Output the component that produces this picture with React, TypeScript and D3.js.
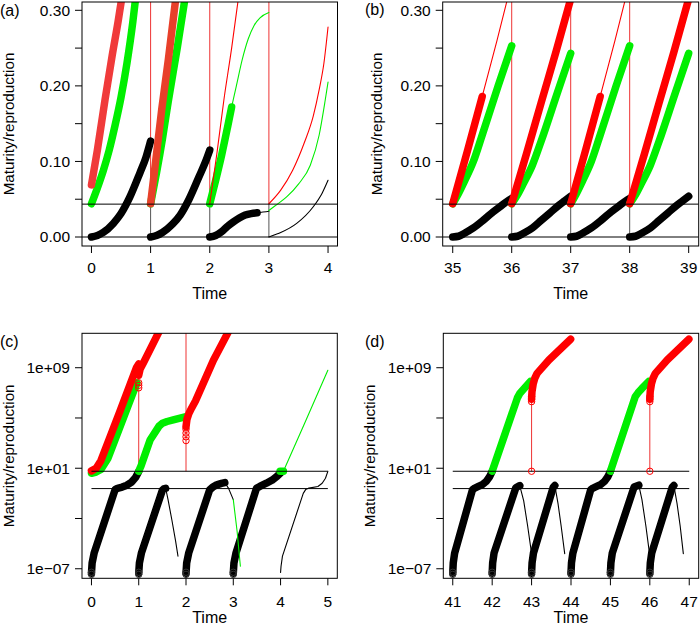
import React from "react";
import * as d3 from "d3";

type P = [number, number];

const FONT = "'Liberation Sans', Arial, Helvetica, sans-serif";
const K = "#000000";
const G = "#00ee00";
const R = "#ff0000";
const TH = 7.5; // thick trace width
const TN = 1.1; // thin trace width

// ---------------- Panel (a): linear scale, time 0..4 ----------------
const aXTicks = [0, 1, 2, 3, 4];
const aYTicks = [0, 0.05, 0.1, 0.15, 0.2, 0.25, 0.3];
const aYLabels = ["0.00", "", "0.10", "", "0.20", "", "0.30"];
const aThresholds = [0, 0.0435];
const aResets = [1, 2, 3];
const aBlack1: P[] = [[0, 0], [0.1, 0.002], [0.2, 0.006], [0.37, 0.018], [0.5, 0.031], [0.65, 0.053], [0.82, 0.085], [0.92, 0.105], [1, 0.127]];
const aBlack2: P[] = [[1, 0], [1.1, 0.002], [1.2, 0.006], [1.37, 0.017], [1.5, 0.029], [1.65, 0.05], [1.82, 0.08], [1.92, 0.098], [2, 0.115]];
const aBlack3: P[] = [[2, 0], [2.1, 0.002], [2.2, 0.007], [2.3, 0.014], [2.4, 0.02], [2.5, 0.025], [2.6, 0.029], [2.7, 0.031], [2.8, 0.032]];
const aBlack3Thin: P[] = [[2.8, 0.032], [2.9, 0.033], [3, 0.034]];
const aBlack4Thin: P[] = [[3, 0], [3.1, 0.003], [3.2, 0.006], [3.47, 0.018], [3.75, 0.04], [3.9, 0.058], [4, 0.075]];
const aGreen1: P[] = [[0, 0.044], [0.1, 0.065], [0.2, 0.088], [0.3, 0.115], [0.4, 0.148], [0.5, 0.185], [0.6, 0.23], [0.7, 0.285], [0.76, 0.325]];
const aGreen2: P[] = [[1, 0.044], [1.1, 0.085], [1.2, 0.13], [1.3, 0.18], [1.45, 0.25], [1.6, 0.325]];
const aGreen3: P[] = [[2, 0.044], [2.1, 0.075], [2.2, 0.108], [2.3, 0.145], [2.37, 0.172]];
const aGreen3Thin: P[] = [[2.37, 0.172], [2.45, 0.2], [2.55, 0.235], [2.65, 0.262], [2.75, 0.28], [2.85, 0.29], [3, 0.297]];
const aGreen4Thin: P[] = [[3, 0.035], [3.1, 0.041], [3.3, 0.053], [3.5, 0.07], [3.7, 0.095], [3.85, 0.135], [3.95, 0.18], [4, 0.205]];
const aRed1: P[] = [[0, 0.069], [0.1, 0.115], [0.23, 0.182], [0.35, 0.24], [0.45, 0.285], [0.53, 0.325]];
const aRed2: P[] = [[1, 0.044], [1.1, 0.11], [1.19, 0.17], [1.3, 0.235], [1.44, 0.325]];
const aRed3Thin: P[] = [[2, 0.044], [2.12, 0.11], [2.24, 0.182], [2.37, 0.25], [2.5, 0.325]];
const aRed4Thin: P[] = [[3, 0.044], [3.2, 0.062], [3.4, 0.088], [3.6, 0.125], [3.75, 0.16], [3.85, 0.195], [3.93, 0.23], [4, 0.278]];

// ---------------- Panel (b): linear scale, time 35..39 ----------------
const bXTicks = [35, 36, 37, 38, 39];
const bThresholds = [0, 0.0435];
const bResets = [36, 37, 38];
const bBlack35: P[] = [[35, 0], [35.1, 0.001], [35.2, 0.005], [35.35, 0.012], [35.5, 0.021], [35.65, 0.031], [35.8, 0.04], [35.9, 0.046], [36, 0.051]];
const bBlack36: P[] = [[36, 0], [36.1, 0.001], [36.2, 0.005], [36.35, 0.012], [36.5, 0.022], [36.65, 0.032], [36.8, 0.042], [36.9, 0.048], [37, 0.054]];
const bBlack37: P[] = [[37, 0], [37.1, 0.001], [37.2, 0.005], [37.35, 0.012], [37.5, 0.021], [37.65, 0.031], [37.8, 0.04], [37.9, 0.046], [38, 0.051]];
const bBlack38: P[] = [[38, 0], [38.1, 0.001], [38.2, 0.005], [38.35, 0.012], [38.5, 0.022], [38.65, 0.032], [38.8, 0.042], [38.9, 0.048], [39, 0.054]];
const bGreen35: P[] = [[35, 0.044], [35.1, 0.058], [35.2, 0.074], [35.35, 0.1], [35.5, 0.135], [35.77, 0.2], [36, 0.253]];
const bGreen36: P[] = [[36, 0.044], [36.1, 0.056], [36.2, 0.071], [36.35, 0.095], [36.5, 0.127], [36.77, 0.19], [37, 0.243]];
const bGreen37: P[] = [[37, 0.044], [37.1, 0.058], [37.2, 0.074], [37.35, 0.1], [37.5, 0.135], [37.77, 0.2], [38, 0.253]];
const bGreen38: P[] = [[38, 0.044], [38.1, 0.056], [38.2, 0.071], [38.35, 0.095], [38.5, 0.127], [38.77, 0.19], [39, 0.243]];
const bRed35: P[] = [[35, 0.044], [35.25, 0.114], [35.5, 0.186]];
const bRed35Thin: P[] = [[35.5, 0.186], [35.75, 0.26], [35.96, 0.325]];
const bRed36: P[] = [[36, 0.044], [36.25, 0.11], [36.5, 0.178], [36.75, 0.245], [37, 0.315]];
const bRed37: P[] = [[37, 0.044], [37.25, 0.114], [37.5, 0.186]];
const bRed37Thin: P[] = [[37.5, 0.186], [37.75, 0.26], [37.96, 0.325]];
const bRed38: P[] = [[38, 0.044], [38.25, 0.11], [38.5, 0.178], [38.75, 0.245], [39, 0.315]];

// ---------------- Panel (c): log scale (values as log10 exponents), time 0..5 ----------------
const cXTicks = [0, 1, 2, 3, 4, 5];
const logYTicks = [-7, -3, 1, 5, 9];
const logYLabels = ["1e\u221207", "", "1e+01", "", "1e+09"];
const cThresholds = [0.76, -0.62];
const cBlack1: P[] = [[0, -7.35], [0.014, -6.55], [0.056, -5.76], [0.5, -0.7], [0.55, -0.6], [0.65, -0.5], [0.75, -0.35], [0.85, -0.1], [0.93, 0.25], [1, 0.75]];
const cBlack2: P[] = [[1, -7.35], [1.014, -6.55], [1.056, -5.76], [1.5, -0.75], [1.53, -0.64], [1.57, -0.6]];
const cBlack2Thin: P[] = [[1.57, -0.6], [1.62, -1.5], [1.7, -3.1], [1.78, -4.8], [1.83, -6.0]];
const cBlack3: P[] = [[2, -7.35], [2.014, -6.55], [2.056, -5.76], [2.5, -0.72], [2.56, -0.52], [2.65, -0.32], [2.75, -0.2], [2.82, -0.14]];
const cBlack3Thin: P[] = [[2.82, -0.14], [2.9, -0.6], [3.0, -1.5]];
const cGreen3Thin: P[] = [[3.0, -1.5], [3.08, -4.0], [3.15, -6.8]];
const cBlack4: P[] = [[3, -7.35], [3.014, -6.55], [3.056, -5.76], [3.49, -0.6], [3.56, -0.45], [3.7, -0.19], [3.82, 0.05], [3.92, 0.34], [4.02, 0.7]];
const cGreenDot: P[] = [[3.99, 0.76], [4.06, 0.76]];
const cGreen5Thin: P[] = [[4.06, 0.76], [4.5, 4.5], [5, 8.8]];
const cBlack5Thin: P[] = [[4.0, -7.3], [4.01, -6.8], [4.04, -6.0], [4.48, -1.0], [4.53, -0.7], [4.6, -0.58], [4.79, -0.45], [4.88, -0.2], [4.95, 0.2], [5.0, 0.75]];
const cGreen1: P[] = [[0, 0.6], [0.1, 0.7], [0.2, 0.9], [0.35, 1.8], [0.96, 7.8]];
const cRed1: P[] = [[0, 0.79], [0.1, 1.0], [0.2, 1.6], [0.6, 5.5], [0.95, 9.0], [1.0, 9.3]];
const cRed1b: P[] = [[1.0, 8.4], [1.03, 8.9], [1.1, 9.4], [1.46, 12.1]];
const cGreen2: P[] = [[1, 0.76], [1.05, 1.2], [1.24, 3.25], [1.43, 4.35], [1.5, 4.58], [1.6, 4.72], [1.73, 4.85], [2.0, 5.1]];
const cRed2: P[] = [[2, 4.3], [2.02, 4.9], [2.06, 5.35], [2.12, 5.8], [2.2, 6.35], [2.58, 9.6], [2.93, 12.1]];
const cRedCircles: P[] = [[1, 7.4], [1, 7.6], [1, 7.8], [2, 3.2], [2, 3.5], [2, 3.8], [2, 4.1]];
const cBottomCircles = [0, 1, 2, 3];

// ---------------- Panel (d): log scale, time 41..47 ----------------
const dXTicks = [41, 42, 43, 44, 45, 46, 47];
const dThresholds = [0.76, -0.62];
const dBlack41: P[] = [[41, -7.35], [41.012, -6.55], [41.047, -5.76], [41.5, -0.72], [41.56, -0.58], [41.65, -0.45], [41.75, -0.3], [41.85, -0.05], [41.93, 0.3], [42, 0.75]];
const dBlack42: P[] = [[42, -7.35], [42.012, -6.55], [42.047, -5.76], [42.6, -0.55], [42.7, -0.38]];
const dBlack42Thin: P[] = [[42.7, -0.38], [42.8, -1.6], [42.9, -3.6], [43.0, -5.8]];
const dBlack43: P[] = [[43, -7.35], [43.012, -6.55], [43.047, -5.76], [43.55, -0.5], [43.59, -0.38]];
const dBlack43Thin: P[] = [[43.59, -0.38], [43.67, -1.8], [43.75, -3.6], [43.84, -5.8]];
const dGreen42: P[] = [[42, 0.76], [42.64, 6.6], [42.7, 6.95], [42.8, 7.3], [42.97, 7.9]];
const dRed43: P[] = [[43, 6.5], [43.01, 7.1], [43.04, 7.7], [43.08, 8.15], [43.14, 8.55], [43.44, 9.62], [43.99, 11.27]];
const dBlack44: P[] = [[44, -7.35], [44.012, -6.55], [44.047, -5.76], [44.5, -0.72], [44.56, -0.58], [44.65, -0.45], [44.75, -0.3], [44.85, -0.05], [44.93, 0.3], [45, 0.75]];
const dBlack45: P[] = [[45, -7.35], [45.012, -6.55], [45.047, -5.76], [45.6, -0.5], [45.72, -0.35]];
const dBlack45Thin: P[] = [[45.72, -0.35], [45.8, -1.5], [45.9, -3.6], [46.0, -6.0]];
const dBlack46: P[] = [[46, -7.35], [46.012, -6.55], [46.047, -5.76], [46.57, -0.5], [46.61, -0.38]];
const dBlack46Thin: P[] = [[46.61, -0.38], [46.69, -1.8], [46.77, -3.6], [46.85, -5.8]];
const dGreen45: P[] = [[45, 0.76], [45.63, 6.7], [45.7, 7.0], [45.8, 7.35], [45.97, 7.9]];
const dRed46: P[] = [[46, 6.5], [46.01, 7.1], [46.04, 7.7], [46.08, 8.15], [46.14, 8.55], [46.44, 9.62], [46.99, 11.27]];
const dRedCircles: P[] = [[43, 6.3], [43, 6.5], [43, 6.7], [43, 0.76], [46, 6.3], [46, 6.5], [46, 6.7], [46, 0.76]];
const dRedDrops: P[] = [[43, 6.5], [46, 6.5]];
const dBottomCircles = [41, 42, 43, 44, 45, 46];

// ---------------------------------------------------------------------
interface Seg { pts: P[]; color: string; w: number }
interface VLine { t: number; v0: number; v1: number; color: string }
interface Circ { t: number; v: number; color: string }
interface Box { x0: number; x1: number; y0: number; y1: number }

interface PanelDef {
  id: string;
  label: string;
  labelPos: [number, number];
  box: Box;
  xDomain: [number, number];
  log: boolean;
  yDomain: [number, number];
  xTicks: number[];
  yTicks: number[];
  yLabels: string[];
  hlines: number[];
  hSpan: [number, number] | null;
  vlines: VLine[];
  segs: Seg[];
  circles: Circ[];
  yTitleX: number;
  xLabelY: number;
  xTitleY: number;
}

function Panel({ p }: { p: PanelDef }) {
  const { box } = p;
  const x = d3.scaleLinear().domain(p.xDomain).range([box.x0, box.x1]);
  const yBase = p.log
    ? d3.scaleLog().domain(p.yDomain.map((e) => Math.pow(10, e)) as [number, number]).range([box.y1, box.y0])
    : d3.scaleLinear().domain(p.yDomain).range([box.y1, box.y0]);
  const y = (v: number) => (p.log ? yBase(Math.pow(10, v)) : yBase(v));
  const line = d3
    .line<P>()
    .x((d) => x(d[0]))
    .y((d) => y(d[1]))
    .curve(p.log ? d3.curveLinear : d3.curveMonotoneX);
  const tickLen = 7;
  const cx = (box.x0 + box.x1) / 2;
  const cy = (box.y0 + box.y1) / 2;
  return (
    <g>
      <defs>
        <clipPath id={p.id}>
          <rect x={box.x0} y={box.y0} width={box.x1 - box.x0} height={box.y1 - box.y0} />
        </clipPath>
      </defs>
      <g clipPath={`url(#${p.id})`}>
        {p.vlines.map((v, i) => (
          <line key={"v" + i} x1={x(v.t)} x2={x(v.t)} y1={y(v.v0)} y2={y(v.v1)} stroke={v.color} strokeWidth={1} />
        ))}
        {p.segs.map((s, i) => (
          <path
            key={"s" + i}
            d={line(s.pts) || ""}
            fill="none"
            stroke={s.color}
            strokeWidth={s.w}
            strokeLinecap="round"
            strokeLinejoin="round"
          />
        ))}
        {p.hlines.map((h, i) => (
          <line
            key={"h" + i}
            x1={p.hSpan ? x(p.hSpan[0]) : box.x0}
            x2={p.hSpan ? x(p.hSpan[1]) : box.x1}
            y1={y(h)}
            y2={y(h)}
            stroke={K}
            strokeWidth={1}
          />
        ))}
        {p.circles.map((c, i) => (
          <circle key={"c" + i} cx={x(c.t)} cy={y(c.v)} r={3.2} fill="none" stroke={c.color} strokeWidth={1} />
        ))}
      </g>
      <rect x={box.x0} y={box.y0} width={box.x1 - box.x0} height={box.y1 - box.y0} fill="none" stroke={K} strokeWidth={1} />
      {p.xTicks.map((t) => (
        <g key={"xt" + t}>
          <line x1={x(t)} x2={x(t)} y1={box.y1} y2={box.y1 + tickLen} stroke={K} strokeWidth={1} />
          <text x={x(t)} y={p.xLabelY} textAnchor="middle" fontSize={15.5} fontFamily={FONT}>
            {t}
          </text>
        </g>
      ))}
      {p.yTicks.map((t, i) => (
        <g key={"yt" + i}>
          <line x1={box.x0 - tickLen} x2={box.x0} y1={y(t)} y2={y(t)} stroke={K} strokeWidth={1} />
          {p.yLabels[i] ? (
            <text x={box.x0 - 12} y={y(t)} dy="0.35em" textAnchor="end" fontSize={15.5} fontFamily={FONT}>
              {p.yLabels[i]}
            </text>
          ) : null}
        </g>
      ))}
      <text x={cx} y={p.xTitleY} textAnchor="middle" fontSize={16} fontFamily={FONT}>
        Time
      </text>
      <text
        transform={`translate(${p.yTitleX},${cy}) rotate(-90)`}
        textAnchor="middle"
        dy="0.35em"
        fontSize={15.2}
        fontFamily={FONT}
      >
        Maturity/reproduction
      </text>
      <text x={p.labelPos[0]} y={p.labelPos[1]} fontSize={16} fontFamily={FONT}>
        {p.label}
      </text>
    </g>
  );
}

const seg = (pts: P[], color: string, w: number): Seg => ({ pts, color, w });

function buildPanels(): PanelDef[] {
  const aTop = 0.4;
  const panelA: PanelDef = {
    id: "clipA",
    label: "(a)",
    labelPos: [0, 16],
    box: { x0: 82, x1: 337.5, y0: 2, y1: 246 },
    xDomain: [-0.16, 4.16],
    log: false,
    yDomain: [-0.0119, 0.311],
    xTicks: aXTicks,
    yTicks: aYTicks,
    yLabels: aYLabels,
    hlines: aThresholds,
    hSpan: null,
    vlines: aResets.flatMap((t) => [
      { t, v0: aThresholds[0], v1: aThresholds[1], color: "#555555" },
      { t, v0: aThresholds[1], v1: aTop, color: "#ee3333" },
    ]),
    segs: [
      seg(aBlack1, K, TH), seg(aBlack2, K, TH), seg(aBlack3, K, TH),
      seg(aBlack3Thin, K, TN), seg(aBlack4Thin, K, TN),
      seg(aGreen1, G, TH), seg(aGreen2, G, TH), seg(aGreen3, G, TH),
      seg(aGreen3Thin, G, TN), seg(aGreen4Thin, G, TN),
      seg(aRed1, "#f03a3a", TH), seg(aRed2, "#e8402a", TH),
      seg(aRed3Thin, R, TN), seg(aRed4Thin, R, TN),
    ],
    circles: [],
    yTitleX: 9,
    xLabelY: 273,
    xTitleY: 299,
  };
  const panelB: PanelDef = {
    id: "clipB",
    label: "(b)",
    labelPos: [365, 15],
    box: { x0: 442.7, x1: 698.7, y0: 2, y1: 246 },
    xDomain: [34.83, 39.17],
    log: false,
    yDomain: [-0.0119, 0.311],
    xTicks: bXTicks,
    yTicks: aYTicks,
    yLabels: aYLabels,
    hlines: bThresholds,
    hSpan: null,
    vlines: bResets.flatMap((t) => [
      { t, v0: bThresholds[0], v1: bThresholds[1], color: "#555555" },
      { t, v0: bThresholds[1], v1: aTop, color: "#ee3333" },
    ]),
    segs: [
      seg(bBlack35, K, TH), seg(bBlack36, K, TH), seg(bBlack37, K, TH), seg(bBlack38, K, TH),
      seg(bGreen35, G, TH), seg(bGreen36, G, TH), seg(bGreen37, G, TH), seg(bGreen38, G, TH),
      seg(bRed35Thin, R, TN), seg(bRed37Thin, R, TN),
      seg(bRed35, R, TH), seg(bRed36, R, TH), seg(bRed37, R, TH), seg(bRed38, R, TH),
    ],
    circles: [],
    yTitleX: 377,
    xLabelY: 273,
    xTitleY: 299,
  };
  const panelC: PanelDef = {
    id: "clipC",
    label: "(c)",
    labelPos: [0, 347],
    box: { x0: 82, x1: 337.3, y0: 333.3, y1: 578.3 },
    xDomain: [-0.2, 5.2],
    log: true,
    yDomain: [-7.76, 11.74],
    xTicks: cXTicks,
    yTicks: logYTicks,
    yLabels: logYLabels,
    hlines: cThresholds,
    hSpan: [0, 5],
    vlines: [
      { t: 1, v0: cThresholds[0], v1: 7.6, color: "#ee3333" },
      { t: 2, v0: cThresholds[0], v1: 13, color: "#ee3333" },
    ],
    segs: [
      seg(cBlack1, K, TH), seg(cBlack2, K, TH), seg(cBlack3, K, TH), seg(cBlack4, K, TH),
      seg(cBlack2Thin, K, TN), seg(cBlack3Thin, K, TN), seg(cBlack5Thin, K, TN),
      seg(cGreen3Thin, G, TN), seg(cGreen5Thin, G, TN),
      seg(cGreen1, G, TH), seg(cGreen2, G, TH), seg(cGreenDot, G, TH),
      seg(cRed1, R, TH), seg(cRed1b, R, TH), seg(cRed2, R, TH),
    ],
    circles: [
      ...cRedCircles.map(([t, v]) => ({ t, v, color: R })),
      ...cBottomCircles.flatMap((t) => [
        { t, v: -7.28, color: "#333333" },
        { t, v: -7.45, color: "#333333" },
      ]),
    ],
    yTitleX: 9,
    xLabelY: 607,
    xTitleY: 623,
  };
  const panelD: PanelDef = {
    id: "clipD",
    label: "(d)",
    labelPos: [365, 347],
    box: { x0: 443.3, x1: 698.7, y0: 333.3, y1: 578.3 },
    xDomain: [40.76, 47.24],
    log: true,
    yDomain: [-7.76, 11.74],
    xTicks: dXTicks,
    yTicks: logYTicks,
    yLabels: logYLabels,
    hlines: dThresholds,
    hSpan: [41, 47],
    vlines: dRedDrops.map(([t, v]) => ({ t, v0: dThresholds[0], v1: v, color: "#ee3333" })),
    segs: [
      seg(dBlack41, K, TH), seg(dBlack42, K, TH), seg(dBlack43, K, TH),
      seg(dBlack44, K, TH), seg(dBlack45, K, TH), seg(dBlack46, K, TH),
      seg(dBlack42Thin, K, TN), seg(dBlack43Thin, K, TN), seg(dBlack45Thin, K, TN), seg(dBlack46Thin, K, TN),
      seg(dGreen42, G, TH), seg(dGreen45, G, TH),
      seg(dRed43, R, TH), seg(dRed46, R, TH),
    ],
    circles: [
      ...dRedCircles.map(([t, v]) => ({ t, v, color: R })),
      ...dBottomCircles.flatMap((t) => [
        { t, v: -7.28, color: "#333333" },
        { t, v: -7.45, color: "#333333" },
      ]),
    ],
    yTitleX: 370,
    xLabelY: 607,
    xTitleY: 623,
  };
  return [panelA, panelB, panelC, panelD];
}

export default function App() {
  const panels = buildPanels();
  return (
    <div style={{ position: "absolute", left: 0, top: 0 }}>
      <svg width={700} height={633} style={{ display: "block", background: "#fff" }}>
        <rect x={0} y={0} width={700} height={633} fill="#fff" />
        {panels.map((p) => (
          <Panel key={p.id} p={p} />
        ))}
      </svg>
    </div>
  );
}
